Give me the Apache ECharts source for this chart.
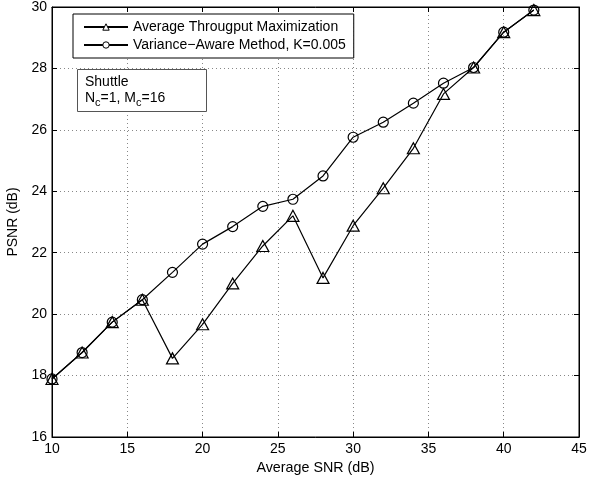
<!DOCTYPE html>
<html>
<head>
<meta charset="utf-8">
<script src="https://cdn.jsdelivr.net/npm/echarts@6/dist/echarts.min.js"></script>
<style>html,body{margin:0;padding:0;background:#fff;}#c{width:589px;height:479px;}</style>
</head>
<body>
<div id="c"></div>
<script>
const snr = [10,12,14,16,18,20,22,24,26,28,30,32,34,36,38,40,42];
const throughputMax = [17.89,18.75,19.74,20.47,18.56,19.67,21.0,22.22,23.2,21.18,22.88,24.1,25.4,27.17,28.03,29.18,29.9];
const varianceAware = [17.89,18.75,19.74,20.47,21.36,22.28,22.85,23.51,23.74,24.5,25.76,26.25,26.87,27.52,28.03,29.18,29.9];
const seriesNames = ['Average Througput Maximization','Variance\u2212Aware Method, K=0.005'];
const xTicks = [10,15,20,25,30,35,40,45];
const yTicks = [16,18,20,22,24,26,28,30];

const font = 'Liberation Sans, Arial, Helvetica, sans-serif';
const chart = echarts.init(document.getElementById('c'), null, {renderer:'canvas'});
const pair = (xs, ys) => xs.map((x,i)=>[x, ys[i]]);
const hollow = {color:'rgba(255,255,255,0)', borderColor:'#000', borderWidth:1.2};

chart.setOption({
  animation:false,
  backgroundColor:'#fff',
  grid:{left:52, right:10, top:7, bottom:42, containLabel:false, outerBoundsMode:'none',
        show:true, borderColor:'#000', borderWidth:1, backgroundColor:'transparent'},
  legend:{
    left:73, top:14, orient:'vertical', itemWidth:44, itemHeight:8, itemGap:4,
    padding:[6,8,6,10],
    borderColor:'#000', borderWidth:1, backgroundColor:'#fff',
    itemStyle:{color:'#fff', borderColor:'#000', borderWidth:1},
    textStyle:{fontFamily:font, fontSize:14, color:'#000'},
    data:seriesNames
  },
  xAxis:[{
    type:'value', min:xTicks[0], max:xTicks[xTicks.length-1], interval:5,
    name:'Average SNR (dB)', nameLocation:'middle', nameGap:23,
    nameTextStyle:{fontFamily:font, fontSize:14.3, color:'#000'},
    axisLine:{show:true, onZero:false, lineStyle:{color:'#000', width:1}},
    axisTick:{show:true, inside:true, length:5, lineStyle:{color:'#000'}},
    axisLabel:{fontFamily:font, fontSize:14, color:'#000', margin:5},
    splitLine:{show:true, lineStyle:{color:'#888', type:[1,3], width:1}}
  },{
    type:'value', position:'top', min:xTicks[0], max:xTicks[xTicks.length-1], interval:5,
    axisLine:{show:true, lineStyle:{color:'#000'}},
    axisTick:{show:true, inside:true, length:5, lineStyle:{color:'#000'}},
    axisLabel:{show:false}, splitLine:{show:false}
  }],
  yAxis:[{
    type:'value', min:yTicks[0], max:yTicks[yTicks.length-1], interval:2,
    name:'PSNR (dB)', nameLocation:'middle', nameGap:30,
    nameTextStyle:{fontFamily:font, fontSize:14, color:'#000'},
    axisLine:{show:true, onZero:false, lineStyle:{color:'#000', width:1}},
    axisTick:{show:true, inside:true, length:5, lineStyle:{color:'#000'}},
    axisLabel:{fontFamily:font, fontSize:14, color:'#000', margin:5},
    splitLine:{show:true, lineStyle:{color:'#888', type:[1,3], width:1}}
  },{
    type:'value', position:'right', min:yTicks[0], max:yTicks[yTicks.length-1], interval:2,
    axisLine:{show:true, lineStyle:{color:'#000'}},
    axisTick:{show:true, inside:true, length:5, lineStyle:{color:'#000'}},
    axisLabel:{show:false}, splitLine:{show:false}
  }],
  series:[{
    name:seriesNames[0], type:'line', data:pair(snr, throughputMax),
    symbol:'triangle', symbolSize:[12,11], showAllSymbol:true,
    lineStyle:{color:'#000', width:1.2}, itemStyle:hollow, z:3
  },{
    name:seriesNames[1], type:'line', data:pair(snr, varianceAware),
    symbol:'circle', symbolSize:10, showAllSymbol:true,
    lineStyle:{color:'#000', width:1.2}, itemStyle:hollow, z:4
  }],
  graphic:[{
    type:'rect', left:77, top:69, shape:{width:129, height:42},
    style:{fill:'#fff', stroke:'#555', lineWidth:1}, z:10
  },{
    type:'text', left:85, top:74, z:11,
    style:{
      text:'Shuttle\nN{s|c}=1, M{s|c}=16',
      fontFamily:font, fontSize:14, fill:'#000', lineHeight:16,
      rich:{s:{fontFamily:font, fontSize:11, fill:'#000', padding:[9,0,0,0]}}
    }
  }]
});
</script>
</body>
</html>
